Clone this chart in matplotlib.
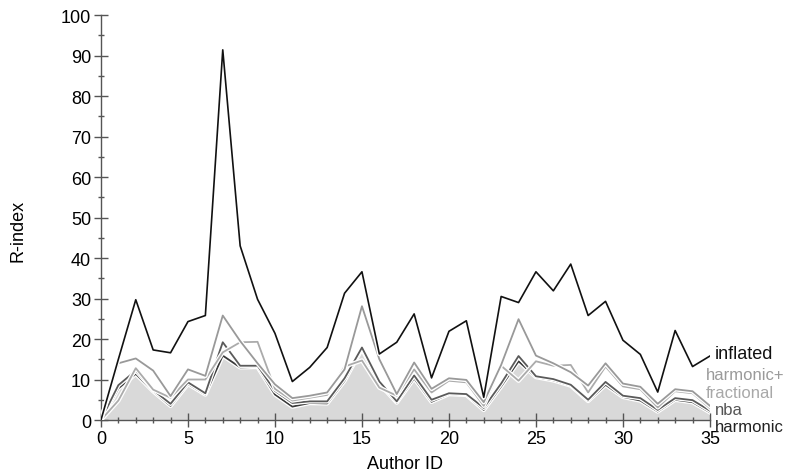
import numpy as np
import matplotlib.pyplot as plt
import matplotlib.patheffects as pe
from matplotlib.ticker import MultipleLocator

plt.rcParams['font.family'] = ['Liberation Sans', 'DejaVu Sans']

# author ids and the five R-index variants
authors = list(range(36))
inflated = [0, 15, 29.7, 17.3, 16.6, 24.3, 25.8, 91.4, 43, 29.8, 21.4, 9.5, 13, 17.9,
            31.3, 36.6, 16.3, 19.2, 26.2, 10.4, 21.9, 24.5, 5.6, 30.5, 29, 36.6, 31.9,
            38.5, 25.8, 29.3, 19.7, 16.2, 6.9, 22.1, 13.2, 15.8]
harmonic_plus = [0, 14, 15.2, 12.2, 5.9, 12.5, 10.9, 25.8, 19.5, 14, 8.8, 5.4, 6, 6.8,
                 12.5, 28.1, 15, 6.4, 14.2, 7.7, 10.3, 9.9, 4.4, 13.6, 24.9, 15.9, 14,
                 11.8, 8.5, 14, 9, 8.2, 4, 7.6, 7.1, 3.5]
fractional = [0, 4.8, 12.8, 7.5, 5.5, 10, 10, 16.7, 19.2, 19.3, 7.7, 4.8, 5.5, 6.2,
              13.2, 14.7, 8, 6, 12.5, 6.8, 9.7, 9.3, 3.5, 13.4, 9.7, 14.5, 13.4, 13.6,
              6.8, 13.2, 8.3, 7.6, 3.1, 7.1, 6.6, 2.9]
nba = [0, 8.6, 12.2, 7.4, 4.0, 9.3, 6.6, 19.2, 13.4, 13.4, 7.2, 4.2, 4.6, 4.6, 10.3,
       17.9, 9.5, 4.6, 11, 5, 6.6, 6.4, 3.0, 9, 15.8, 10.8, 10.1, 8.7, 5.0, 9.4, 6,
       5.4, 2.5, 5.4, 4.9, 2.3]
harmonic = [0, 7.8, 11.4, 7.1, 3.5, 8.9, 6.3, 15.9, 13.0, 13.1, 6.3, 3.3, 4.2, 4.1,
            9.7, 17.6, 9, 4.3, 10.3, 4.5, 6.4, 6.2, 2.5, 8.3, 14.5, 10.6, 9.8, 8.5,
            4.7, 8.7, 5.7, 4.8, 2.1, 5.0, 4.4, 1.9]

fig = plt.figure(figsize=(7.95, 4.77), dpi=100)
ax = fig.add_axes([0.127, 0.1174, 0.766, 0.849])

halo = [pe.withStroke(linewidth=3.2, foreground='white')]

ax.fill_between(authors, harmonic, 0, color='#d9d9d9', lw=0, zorder=1)
ax.plot(authors, harmonic, color='#3a3a3a', lw=1.3, zorder=2, path_effects=halo)
ax.plot(authors, nba, color='#5a5a5a', lw=1.3, zorder=3, path_effects=halo)
ax.plot(authors, fractional, color='#ababab', lw=1.3, zorder=4, path_effects=halo)
ax.plot(authors, harmonic_plus, color='#999999', lw=1.3, zorder=5, path_effects=halo)
ax.plot(authors, inflated, color='#111111', lw=1.2, zorder=6, path_effects=halo)

# series names at the right end
ax.text(35.3, 16.5, 'inflated', color='#111111', fontsize=13, va='center', clip_on=False)
ax.text(34.75, 11.3, 'harmonic+', color='#9a9a9a', fontsize=12, va='center', clip_on=False)
ax.text(34.75, 6.9, 'fractional', color='#a8a8a8', fontsize=12, va='center', clip_on=False)
ax.text(35.3, 2.6, 'nba', color='#555555', fontsize=12, va='center', clip_on=False)
ax.text(35.3, -1.7, 'harmonic', color='#222222', fontsize=12, va='center', clip_on=False)

ax.set_xlim(0, 35)
ax.set_ylim(0, 100)
ax.xaxis.set_major_locator(MultipleLocator(5))
ax.xaxis.set_minor_locator(MultipleLocator(1))
ax.yaxis.set_major_locator(MultipleLocator(10))
ax.yaxis.set_minor_locator(MultipleLocator(5))

for side in ['top', 'right']:
    ax.spines[side].set_visible(False)
for side in ['left', 'bottom']:
    ax.spines[side].set_color('#555555')
    ax.spines[side].set_linewidth(1.0)

ax.tick_params(which='major', direction='inout', length=10, width=1.0, color='#555555',
               labelsize=13, pad=2)
ax.tick_params(which='minor', direction='inout', length=5, width=1.0, color='#555555')

ax.set_xlabel('Author ID', fontsize=13, labelpad=6)
ax.set_ylabel('R-index', fontsize=13)
ax.yaxis.set_label_coords(-0.122, 0.47)

fig.savefig('out.png', dpi=100)
